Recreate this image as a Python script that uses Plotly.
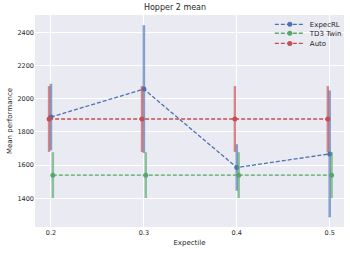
import plotly.graph_objects as go

expectiles = [0.2, 0.3, 0.4, 0.5]

expecrl_mean = [1890, 2058, 1586, 1668]
expecrl_err = [200, 385, 140, 382]

td3_mean = [1540, 1540, 1540, 1540]
td3_err = [138, 138, 138, 138]

auto_mean = [1878, 1878, 1878, 1878]
auto_err = [198, 198, 198, 198]

series = [
    ("ExpecRL", expecrl_mean, expecrl_err, 0.0, "#4C72B0", "rgba(76,114,176,0.65)", "legend"),
    ("TD3 Twin", td3_mean, td3_err, 0.002, "#55A868", "rgba(85,168,104,0.65)", "legend2"),
    ("Auto", auto_mean, auto_err, -0.002, "#C44E52", "rgba(196,78,82,0.65)", "legend3"),
]

fig = go.Figure()
for name, mean, err, off, col, ecol, lg in series:
    fig.add_trace(go.Scatter(
        x=[e + off for e in expectiles], y=mean, name=name, mode="lines+markers",
        line=dict(color=col, width=1.3, dash="4px,2px"),
        marker=dict(color=col, size=5),
        error_y=dict(type="data", array=err, visible=True, color=ecol, thickness=2.5, width=0),
        legend=lg, showlegend=True,
    ))

font_col = "#262626"
leg_common = dict(bgcolor="rgba(0,0,0,0)", font=dict(size=7, color=font_col, family="DejaVu Sans"),
                  xanchor="left", yanchor="middle", borderwidth=0, itemwidth=30, visible=True)
fig.update_layout(
    width=350, height=253, showlegend=True,
    margin=dict(l=35, r=6, t=15, b=26, autoexpand=False),
    paper_bgcolor="white", plot_bgcolor="#EAEAF2",
    font=dict(family="DejaVu Sans", size=7, color=font_col),
    title=dict(text="Hopper 2 mean", x=0.5, xanchor="center", y=0.970, yanchor="middle",
               font=dict(size=8, color=font_col)),
    xaxis=dict(range=[0.1828, 0.5154], tickvals=expectiles, ticktext=["0.2", "0.3", "0.4", "0.5"],
               showgrid=True, gridcolor="white", gridwidth=1, zeroline=False, showline=False,
               ticks="", tickfont=dict(size=6.5, color=font_col), automargin=False,
               title=dict(text="Expectile", font=dict(size=7, color=font_col), standoff=4)),
    yaxis=dict(range=[1228, 2504], tickvals=[1400, 1600, 1800, 2000, 2200, 2400],
               showgrid=True, gridcolor="white", gridwidth=1, zeroline=False, showline=False,
               ticks="", tickfont=dict(size=6.5, color=font_col), automargin=False,
               title=dict(text="Mean performance", font=dict(size=7, color=font_col), standoff=4)),
    legend=dict(x=0.76, y=0.956, **leg_common),
    legend2=dict(x=0.76, y=0.914, **leg_common),
    legend3=dict(x=0.76, y=0.866, **leg_common),
)

fig.write_html("out.html", config={"displayModeBar": False},
               post_script="document.body.style.margin='0';")
